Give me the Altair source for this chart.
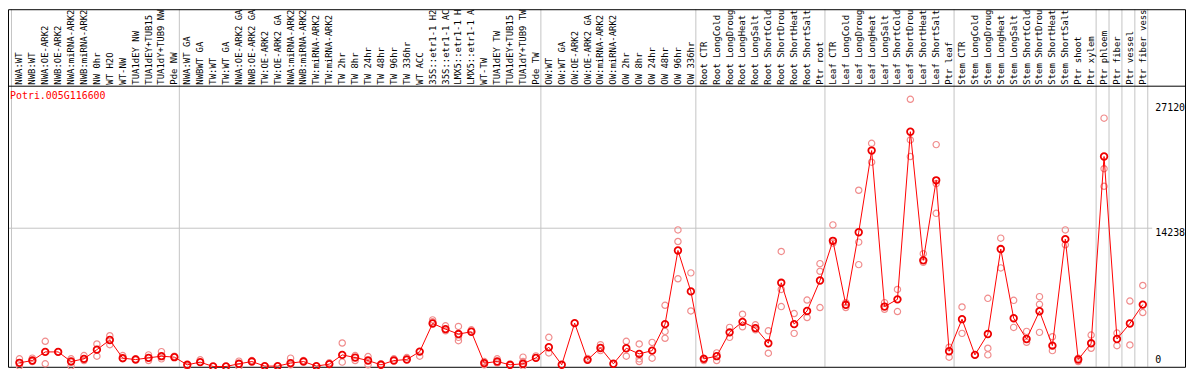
import altair as alt
import pandas as pd

labels = [
    "NWA:WT", "NWB:WT", "NWA:OE-ARK2", "NWB:OE-ARK2", "NWA:miRNA-ARK2", "NWB:miRNA-ARK2",
    "NW 0hr", "WT H2O", "WT-NW", "TUA1dEY NW", "TUA1dEY+TUB15", "TUA1dY+TUB9 NW", "Pde NW",
    "NWA:WT GA", "NWBWT GA", "TW:WT", "TW:WT GA", "NWA:OE-ARK2 GA", "NWB:OE-ARK2 GA",
    "TW:OE-ARK2", "TW:OE-ARK2 GA", "NWA:miRNA-ARK2", "NWB:miRNA-ARK2", "TW:miRNA-ARK2",
    "TW:miRNA-ARK2", "TW 2hr", "TW 8hr", "TW 24hr", "TW 48hr", "TW 96hr", "TW 336hr",
    "WT ACC", "35S::etr1-1 H2", "35S::etr1-1 AC", "LMX5::etr1-1 H", "LMX5::etr1-1 A",
    "WT-TW", "TUA1dEY TW", "TUA1dEY+TUB15", "TUA1dY+TUB9 TW", "Pde TW",
    "OW:WT", "OW:WT GA", "OW:OE-ARK2", "OW:OE-ARK2 GA", "OW:miRNA-ARK2", "OW:miRNA-ARK2",
    "OW 2hr", "OW 8hr", "OW 24hr", "OW 48hr", "OW 96hr", "OW 336hr",
    "Root CTR", "Root LongCold", "Root LongDroug", "Root LongHeat", "Root LongSalt",
    "Root ShortCold", "Root ShortDrou", "Root ShortHeat", "Root ShortSalt", "Ptr root",
    "Leaf CTR", "Leaf LongCold", "Leaf LongDroug", "Leaf LongHeat", "Leaf LongSalt",
    "Leaf ShortCold", "Leaf ShortDrou", "Leaf ShortHeat", "Leaf ShortSalt", "Ptr leaf",
    "Stem CTR", "Stem LongCold", "Stem LongDroug", "Stem LongHeat", "Stem LongSalt",
    "Stem ShortCold", "Stem ShortDrou", "Stem ShortHeat", "Stem ShortSalt", "Ptr shoot",
    "Ptr xylem", "Ptr phloem", "Ptr fiber", "Ptr vessel", "Ptr fiber vess",
]

means = [
    408, 642, 1529, 1529, 540, 815, 1763, 2752, 887, 744, 917, 1091, 989,
    204, 479, 31, 31, 306, 540, 71, 71, 377, 540, 71, 275, 1223, 948, 642, 204,
    642, 744, 1559, 4454, 3873, 3363, 3598, 377, 540, 204, 306, 917,
    2008, 204, 4484, 713, 1936, 306, 1906, 1325, 1661, 4383, 11955, 7746,
    815, 1091, 3537, 4617, 3975, 2415, 8633, 4383, 5738, 8867,
    12944, 6370, 13831, 22219, 6187, 6931, 24155, 10936, 19161, 1600,
    4892, 1223, 3363, 12098, 4994, 2854, 5708, 2171, 13117, 744, 2415,
    21607, 2854, 4454, 6390,
]

reps = [
    [815, 71], [887, 540], [2619, 306], [1529], [815, 71], [1152, 642],
    [2344, 1091], [3190, 2273], [1152, 815], [815], [1223, 642], [1559, 815], [1091],
    [50], [713], [], [], [581, 0], [642], [], [], [887, 204], [642], [], [408],
    [2446, 479], [1152, 642], [1050, 204], [306], [815], [948], [1091],
    [4821, 4617], [4209, 3700], [4148, 3027, 2680], [3802], [540, 204], [815, 377],
    [153], [989, 540, 71], [1121],
    [3027, 1427], [], [], [866], [2273, 1661], [], [2619, 1091], [2344, 815, 540],
    [2507, 887], [6319, 3639, 2925], [14065, 12873, 9040], [9652, 5738],
    [887, 642], [1427, 642], [4046, 3027], [5402, 4107], [4311, 3802], [3700, 1396],
    [11853, 7950, 6187], [5473, 3435], [6859, 5065], [10600, 9815, 6085],
    [14580, 12710], [6594, 6085], [18142, 12811, 10498], [22963, 21026], [6594, 5911],
    [7950, 5677], [27488, 23309, 21607], [11619, 10732], [22830, 18825, 15767], [2008, 989],
    [6146, 3435], [], [7032, 1906, 1223], [13219, 10161], [6829, 4046], [3639, 2517],
    [7206, 6421, 3537], [3088, 1661], [14065, 12536], [887, 540], [3261, 1906],
    [25551, 20353, 18549], [3465, 2171], [6757, 2242], [8357, 5575],
]

group_starts = [0, 13, 41, 53, 63, 73, 84, 85, 86, 87, 88]
tick_top = [27120, 14238]
tick_bottom = [0]
gene = "Potri.005G116600"

W, H = 1185, 283
BAND = 13
x_dom = [-11.5 / BAND, -11.5 / BAND + W / BAND]
y_dom = [0, 28885]
FONT = "DejaVu Sans Mono"

mean_df = pd.DataFrame({"idx": list(range(len(labels))), "label": labels, "mean": means})
rep_df = pd.DataFrame([{"idx": i, "value": v} for i, vs in enumerate(reps) for v in vs])
sep_df = pd.DataFrame({"k": group_starts})
grid_df = pd.DataFrame({"v": [tick_top[1]]})
ytop_df = pd.DataFrame({"v": tick_top, "t": [str(v) for v in tick_top]})
ybot_df = pd.DataFrame({"v": tick_bottom, "t": [str(v) for v in tick_bottom]})
title_df = pd.DataFrame({"t": [gene]})
one_df = pd.DataFrame({"a": [0]})

xs = alt.Scale(domain=x_dom, nice=False, zero=False)
ys = alt.Scale(domain=y_dom, nice=False, zero=False)


def X(f):
    return alt.X(f, type="quantitative", scale=xs, axis=None)


def Y(f):
    return alt.Y(f, type="quantitative", scale=ys, axis=None)


frame = alt.Chart(one_df).mark_rect(fill="transparent", stroke="black", strokeWidth=1).encode(
    x=alt.value(0.5), x2=alt.value(W + 0.5), y=alt.value(-76.5), y2=alt.value(H + 0.5)
)
divider = alt.Chart(one_df).mark_rule(color="black", strokeWidth=1).encode(
    x=alt.value(0), x2=alt.value(W), y=alt.value(0.5)
)
seps = alt.Chart(sep_df).transform_calculate(pos=f"datum.k - 8/{BAND}").mark_rule(
    color="#c4c4c4", strokeWidth=1
).encode(x=X("pos"), y=alt.value(-77), y2=alt.value(H))
grid = alt.Chart(grid_df).mark_rule(color="#c4c4c4", strokeWidth=1).encode(
    y=Y("v"), x=alt.value(0), x2=alt.value(1152)
)
rep_pts = alt.Chart(rep_df).mark_point(
    shape="circle", filled=False, color="#f08c8c", size=40, strokeWidth=1.2, opacity=1
).encode(x=X("idx"), y=Y("value"))
line = alt.Chart(mean_df).mark_line(color="#ff0000", strokeWidth=1).encode(
    x=X("idx"), y=Y("mean")
)
mean_pts = alt.Chart(mean_df).mark_point(
    shape="circle", filled=False, color="#ee0000", size=44, strokeWidth=1.8, opacity=1
).encode(x=X("idx"), y=Y("mean"))
lab = alt.Chart(mean_df).mark_text(
    angle=270, align="left", baseline="middle", font=FONT, fontSize=9, color="black"
).encode(x=X("idx"), y=alt.value(-1), text="label:N")
ytop = alt.Chart(ytop_df).mark_text(
    align="left", baseline="top", font=FONT, fontSize=10, color="black"
).encode(x=alt.value(1155), y=Y("v"), text="t:N")
ybot = alt.Chart(ybot_df).mark_text(
    align="left", baseline="bottom", dy=-2, font=FONT, fontSize=10, color="black"
).encode(x=alt.value(1155), y=Y("v"), text="t:N")
title = alt.Chart(title_df).mark_text(
    align="left", baseline="middle", font=FONT, fontSize=10, color="#ff0000"
).encode(x=alt.value(2), y=alt.value(10), text="t:N")

chart = alt.layer(
    seps, grid, frame, divider, rep_pts, line, mean_pts, lab, ytop, ybot, title
).properties(
    width=W,
    height=H,
    padding={"left": 0, "top": 77, "right": 1, "bottom": 1},
    autosize=alt.AutoSizeParams(type="none"),
).configure_view(stroke=None)

chart.save("out.html", embed_options={"renderer": "svg", "actions": False})
